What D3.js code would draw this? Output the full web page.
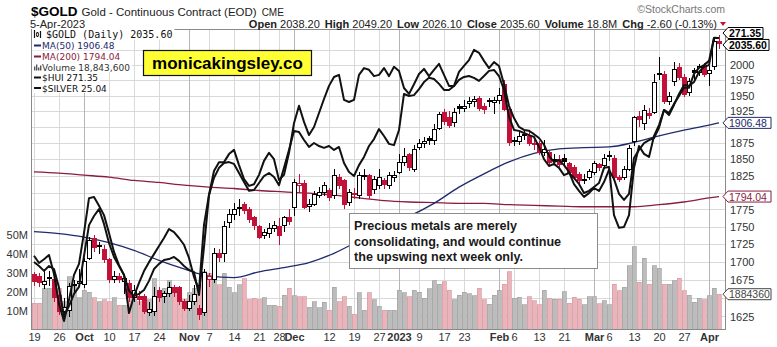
<!DOCTYPE html>
<html><head><meta charset="utf-8">
<script src="https://cdn.jsdelivr.net/npm/d3@7"></script>
<style>body{margin:0;background:#fff}svg{display:block;font-family:Arial,"Liberation Sans",sans-serif}</style>
</head><body><svg id="c" width="777" height="347"></svg>
<script>
// ---------- DATA ----------
const prevClose0 = 1680;
const open = [1682,1680,1668,1677,1676,1654,1632,1633,1667,1670, 1668,1705,1733,1723,1718,1703,1675,1679,1672,1670, 1650,1652,1652,1630,1632,1660,1652,1656,1664,1664, 1645,1636,1645,1636,1630,1675,1676,1712,1711,1756, 1767,1778,1782,1775,1763,1750,1738,1740,1748,1750, 1752,1763,1778,1810,1813,1780,1783,1796,1800,1803, 1795,1823,1818,1785,1799,1795,1825,1825,1805,1810, 1818,1810,1822,1830,1845,1857,1835,1868,1874,1882, 1879,1898,1923,1915,1907,1932,1930,1937,1940,1946, 1932,1942,1938,1942,1967,1928,1879,1877,1889,1885, 1875,1875,1860,1860,1850,1850,1852,1843,1838,1827, 1818,1822,1830,1842,1840,1856,1852,1822,1822,1835, 1877,1916,1905,1922,1923,1986,1984,1940,1972,1995, 1980,1955,1990,1987,1997,1985,1997,2038.2];
const high = [1686,1684,1690,1687,1680,1656,1650,1670,1675,1690, 1705,1735,1738,1728,1724,1706,1687,1684,1683,1675, 1668,1660,1656,1645,1665,1665,1660,1672,1668,1666, 1648,1654,1668,1640,1690,1685,1720,1718,1758,1775, 1785,1790,1786,1778,1766,1752,1746,1756,1758,1762, 1766,1775,1820,1828,1818,1790,1802,1808,1815,1806, 1836,1828,1820,1805,1806,1830,1835,1828,1824,1835, 1822,1830,1832,1858,1868,1860,1872,1882,1885,1886, 1904,1924,1928,1925,1930,1937,1943,1948,1950,1950, 1938,1946,1948,1962,1975,1932,1885,1892,1895,1895, 1880,1878,1880,1862,1858,1856,1858,1846,1842,1830, 1828,1836,1848,1845,1858,1862,1856,1826,1840,1872, 1918,1925,1935,1930,1985,2013,1990,1955,2004,2003, 1985,1978,1995,2002,2003,1998,2045,2049.2];
const low = [1667,1665,1662,1666,1645,1627,1624,1624,1655,1665, 1663,1703,1714,1711,1698,1670,1670,1670,1655,1645, 1645,1640,1628,1625,1625,1645,1643,1652,1652,1640, 1632,1633,1640,1620,1626,1665,1670,1700,1700,1748, 1760,1765,1768,1755,1745,1732,1733,1734,1742,1724, 1742,1752,1765,1800,1775,1772,1780,1792,1795,1788, 1790,1805,1776,1780,1790,1790,1818,1790,1798,1805, 1805,1805,1815,1828,1840,1832,1830,1865,1868,1872, 1872,1895,1903,1898,1900,1920,1924,1930,1932,1925, 1920,1932,1920,1936,1925,1870,1870,1872,1880,1870, 1865,1856,1855,1840,1842,1838,1840,1826,1818,1812, 1812,1818,1826,1832,1836,1848,1818,1815,1818,1832, 1870,1900,1895,1912,1920,1975,1936,1935,1965,1975, 1948,1950,1975,1982,1980,1965,1992,2026.1];
const close = [1672,1671,1673,1678,1650,1632,1637,1666,1668,1672, 1700,1730,1720,1721,1703,1676,1680,1675,1677,1650, 1660,1648,1632,1635,1652,1650,1656,1664,1658,1645, 1636,1645,1655,1628,1685,1680,1712,1706,1750,1767, 1775,1776,1774,1760,1752,1735,1742,1748,1752,1738, 1763,1758,1815,1814,1778,1782,1797,1800,1810,1792, 1825,1810,1782,1800,1797,1825,1826,1795,1820,1822, 1812,1825,1826,1845,1855,1838,1865,1875,1877,1879, 1896,1920,1908,1903,1923,1930,1933,1940,1943,1930, 1928,1940,1942,1950,1928,1876,1877,1885,1887,1875, 1872,1860,1865,1845,1848,1842,1846,1830,1822,1818, 1820,1832,1843,1838,1852,1854,1822,1820,1835,1867, 1915,1912,1926,1918,1971,1984,1940,1948,1992,1979, 1952,1972,1987,1997,1984,1990,2038.2,2035.6];
// volume in millions
const volume = [14,14,22,22,17,22,15,28,23,17, 21,20,17,15,16,15,17,13,13,18, 16,15,12,16,27,21,22,26,22,15, 16,19.5,22,23.7,30.7,30,26,23.7,30,22.4, 19.5,23.7,27,16,16.7,16,17,13,13,12.6, 18.4,22,18,17.5,17.5,12,15,11.6,14.7,10.5, 22.6,15,17.5,12.6,8.4,19.5,10.5,19.5,16,12.6, 10.5,10.5,10.5,21,19.5,17.5,21,20,16.8,21.6, 26,24,25.4,21,16,18.4,19.8,19,18,22, 16,13.5,18.4,21,24,30.7,16.7,17.2,13.2,17.5, 15.4,13.2,21,16.7,16.1,16.1,20.2,14,17.2,16.1, 13.2,17.5,17.5,13.7,15.4,13.2,24,20.7,22.5,33.7, 43.9,25.1,37.7,24,33.7,32.5,24,24,25.8,27.2, 20.7,18.2,14.6,16.7,15.8,18,21.9,18.84];
const hui = [197.4,196.1,194.5,196.1,195.1,188.9,179.6,182.9,186.9,189.2, 199.4,209.6,212.6,214.9,210.0,203.7,199.1,196.1,193.1,187.9, 186.2,186.9,188.2,191.2,195.1,196.8,198.1,198.4,199.1,197.8, 196.1,194.8,194.1,186.5,202.4,219.5,225.2,228.5,230.1,230.4, 229.8,226.8,223.8,220.9,221.2,223.5,225.8,226.8,225.5,222.8, 228.5,234.4,240.7,240.3,237.7,235.4,236.7,235.7,235.1,235.7, 234.4,235.4,230.1,227.1,225.8,229.4,232.1,235.7,238.0,241.3, 239.0,236.4,236.0,241.0,252.9,252.2,252.5,254.5,256.8,258.2, 257.8,256.2,254.2,254.2,255.5,257.5,258.5,258.8,258.2,257.2, 258.8,260.5,260.8,258.8,254.2,245.3,241.0,240.7,240.0,239.3, 238.7,235.4,231.4,229.1,229.8,228.5,226.1,226.8,225.2,223.2, 220.2,220.9,222.2,223.5,228.5,228.8,212.9,208.7,209.0,212.9, 228.5,235.7,233.1,232.1,239.0,242.6,247.6,246.6,249.6,252.2, 254.9,254.9,259.5,261.5,262.4,263.8,271.4,271.35];
const silver = [19.90,19.73,19.82,19.92,19.47,18.76,18.36,18.86,19.45,19.71, 20.44,21.26,21.29,21.08,20.86,20.44,19.99,19.68,19.45,18.55, 18.95,19.26,19.54,19.75,19.94,20.13,20.32,20.53,20.46,20.32, 20.16,19.85,19.40,19.09,20.63,21.34,21.90,22.11,22.11,22.30, 22.40,22.04,21.71,21.55,21.59,21.81,22.14,22.33,22.18,21.69, 21.81,22.33,23.03,23.44,23.06,22.75,22.94,23.27,23.60,23.91, 24.12,24.17,23.58,23.53,23.58,24.17,24.33,24.29,24.14,24.17, 24.33,24.14,24.36,24.26,23.86,23.72,23.95,24.19,24.31,24.14, 24.29,24.43,24.17,23.91,23.91,24.24,24.38,24.52,24.76,24.69, 24.50,24.33,24.47,24.38,23.95,23.44,23.15,22.94,22.87,22.85, 22.77,22.68,22.52,22.26,22.11,22.16,22.04,21.88,21.59,21.43, 21.29,21.38,21.50,21.43,21.64,21.93,21.71,21.36,21.22,21.36, 22.21,22.40,22.56,22.63,22.68,22.92,23.34,23.22,23.46,23.72, 23.93,23.91,24.00,24.24,24.36,24.40,25.04,25.04];
const maIdx = [0,5,10,15,20,25,30,35,40,45,50,55,60,65,70,75,80,85,90,95,100,105,110,115,120,125,130,135,137];
const ma50 = [1743,1740,1735,1727,1716,1702,1690,1680,1678,1686,1692,1699,1712,1730,1750,1765,1784,1808,1828,1846,1859,1866,1868,1869,1876,1886,1895,1903,1906.48];
const ma200 = [1831,1829,1826,1823,1818,1815,1811,1808,1806,1803,1801,1799,1796,1792,1788,1786,1785,1784,1784,1782,1781,1780,1779,1779,1779,1782,1786,1792,1794.04];
const tickIdx = [0,5,10,15,20,25,31,35,40,45,49,52,59,64,69,73,77,82,86,93,96,101,106,112,115,120,125,130,135];
const tickLbl = ["19","26","Oct","10","17","24","Nov","7","14","21","28","Dec","12","19","27","2023","9","17","23","Feb","6","13","21","Mar","6","13","20","27","Apr"];
const monthLbl = ["Oct","Nov","Dec","2023","Feb","Mar","Apr"];
const priceTicks = [1625,1650,1675,1700,1725,1750,1775,1800,1825,1850,1875,1900,1925,1950,1975,2000,2025];
const volTicks = [10,20,30,40,50];
const noteLines = ["Precious metals are merely","consolidating, and would continue","the upswing next week only."];

// ---------- LAYOUT ----------
const L=31,R=726,T=29,B=330;
const svg = d3.select("#c");
const x = d3.scaleLinear().domain([-0.6,138.4]).range([L,R]);
const y = d3.scaleLog().domain([1607,2060]).range([B,T]);
const yV = d3.scaleLinear().domain([0,50]).range([B,235]);
const yHui = d3.scaleLinear().domain([180,271.35]).range([314.8,38]);
const ySil = d3.scaleLinear().domain([18,25.04]).range([336.3,38]);
const RED="#c3123a", NAVY="#1d2a6b", MAROON="#8a1d3d";

svg.append("defs").append("clipPath").attr("id","clip").append("rect")
  .attr("x",L).attr("y",T).attr("width",R-L).attr("height",B-T);

// grid
const grid = svg.append("g").attr("shape-rendering","crispEdges");
grid.selectAll("line.h").data(priceTicks).join("line")
  .attr("x1",L).attr("x2",R).attr("y1",d=>Math.round(y(d))+0.5).attr("y2",d=>Math.round(y(d))+0.5)
  .attr("stroke","#d9d9d9");
grid.selectAll("line.v").data(tickIdx).join("line")
  .attr("x1",d=>Math.round(x(d))+0.5).attr("x2",d=>Math.round(x(d))+0.5).attr("y1",T).attr("y2",B)
  .attr("stroke",(d,i)=>monthLbl.includes(tickLbl[i])?"#b5b5b5":"#d9d9d9");

const plot = svg.append("g").attr("clip-path","url(#clip)");
const idx = d3.range(close.length);
const prevC = i => i===0?prevClose0:close[i-1];

// volume
plot.append("g").attr("shape-rendering","crispEdges").selectAll("rect").data(idx).join("rect")
  .attr("x",i=>Math.round(x(i))-2).attr("width",4)
  .attr("y",i=>yV(volume[i])).attr("height",i=>B-yV(volume[i]))
  .attr("fill",i=>close[i]<prevC(i)?"#e9b5bb":"#bcbcbc")
  .attr("stroke",i=>close[i]<prevC(i)?"#d99aa3":"#a2a2a2").attr("stroke-width",0.7);

// moving averages
const maLine = d3.line().x(d=>x(d[0])).y(d=>y(d[1])).curve(d3.curveMonotoneX);
plot.append("path").attr("d",maLine(maIdx.map((d,i)=>[d,ma200[i]]))).attr("fill","none").attr("stroke",MAROON).attr("stroke-width",1.3);
plot.append("path").attr("d",maLine(maIdx.map((d,i)=>[d,ma50[i]]))).attr("fill","none").attr("stroke",NAVY).attr("stroke-width",1.3);

// candles
const cg = plot.append("g").attr("shape-rendering","crispEdges");
idx.forEach(i=>{
  const cx=Math.round(x(i)), col = close[i]<prevC(i)?RED:"#000";
  cg.append("line").attr("x1",cx+0.5).attr("x2",cx+0.5).attr("y1",y(high[i])).attr("y2",y(low[i])).attr("stroke",col);
  const top=y(Math.max(open[i],close[i])), bot=y(Math.min(open[i],close[i]));
  cg.append("rect").attr("x",cx-1.5).attr("width",4).attr("y",top).attr("height",Math.max(1,bot-top))
    .attr("fill",close[i]>=open[i]?"#fff":col).attr("stroke",col);
});

// overlays
const ln = (sc,arr)=>d3.line().x((d,i)=>x(i)).y(d=>sc(d))(arr);
plot.append("path").attr("d",ln(yHui,hui)).attr("fill","none").attr("stroke","#111").attr("stroke-width",2).attr("stroke-linejoin","round");
plot.append("path").attr("d",ln(ySil,silver)).attr("fill","none").attr("stroke","#111").attr("stroke-width",2).attr("stroke-linejoin","round");

// frame
svg.append("rect").attr("x",L+0.5).attr("y",T+0.5).attr("width",R-L-1).attr("height",B-T-1)
  .attr("fill","none").attr("stroke","#8a8a8a").attr("shape-rendering","crispEdges");

// callout positions (used to hide tick labels that the callouts cover)
const calls = [
  {yc:yV(volume[volume.length-1]), t:"1884360", c:"#444", b:false, w:48},
  {yc:y(ma200[ma200.length-1]), t:"1794.04", c:MAROON, b:false, w:48},
  {yc:y(ma50[ma50.length-1]), t:"1906.48", c:NAVY, b:false, w:48},
  {yc:yHui(hui[hui.length-1])-5, t:"271.35", c:"#000", b:true, w:40},
  {yc:y(close[close.length-1])+1.5, t:"2035.60", c:"#000", b:true, w:46}
];
const covered = d => calls.some(c=>Math.abs(c.yc-y(d))<7.5);

// axes
const ya = svg.append("g").attr("transform",`translate(${R},0)`)
  .call(d3.axisRight(y).tickValues(priceTicks.filter(d=>!covered(d))).tickFormat(d3.format("d")).tickSize(0).tickPadding(4));
ya.select(".domain").remove();
ya.selectAll("text").attr("font-size",11).attr("fill","#333").attr("font-family","Arial");
const va = svg.append("g").attr("transform",`translate(${L},0)`)
  .call(d3.axisLeft(yV).tickValues(volTicks).tickFormat(d=>d+"M").tickSize(0).tickPadding(3));
va.select(".domain").remove();
va.selectAll("text").attr("font-size",11).attr("fill","#333").attr("font-family","Arial");
const xa = svg.append("g").attr("transform",`translate(0,${B})`)
  .call(d3.axisBottom(x).tickValues(tickIdx).tickFormat((d,i)=>tickLbl[i]).tickSize(0).tickPadding(3));
xa.select(".domain").remove();
xa.selectAll("text").attr("font-size",11).attr("fill","#333").attr("font-family","Arial")
  .attr("font-weight",(d,i)=>monthLbl.includes(tickLbl[i])?"bold":"normal");

// header
const ttl = svg.append("text").attr("x",31).attr("y",16).attr("font-size",13.5).attr("font-weight","bold").text("$GOLD");
const sx = 31+ttl.node().getComputedTextLength()+4;
const sub = svg.append("text").attr("x",sx).attr("y",16).attr("font-size",11.5).attr("fill","#222").text("Gold - Continuous Contract (EOD)");
svg.append("text").attr("x",sx+sub.node().getComputedTextLength()+5).attr("y",16).attr("font-size",10).attr("fill","#222").text("CME");
svg.append("text").attr("x",30).attr("y",27.5).attr("font-size",11).attr("fill","#222").text("5-Apr-2023");
svg.append("text").attr("x",725).attr("y",13).attr("text-anchor","end").attr("font-size",10.5).attr("fill","#777").text("\u00A9StockCharts.com");
const hdr = svg.append("text").attr("x",717).attr("y",27.5).attr("text-anchor","end").attr("font-size",11).attr("fill","#222");
[["Open ",1,0],["2038.20",0,0],["High ",1,5],["2049.20",0,0],["Low ",1,5],["2026.10",0,0],["Close ",1,5],["2035.60",0,0],["Volume ",1,5],["18.8M",0,0],["Chg ",1,5],["-2.60 (-0.13%)",0,0]]
  .forEach(([t,b,dx])=>hdr.append("tspan").attr("dx",dx).attr("font-weight",b?"bold":"normal").attr("xml:space","preserve").text(t));
svg.append("path").attr("d","M720,22 L726,22 L723,26 Z").attr("fill",RED);

// legend
const lg = svg.append("g");
const rows = [
  {t:"$GOLD (Daily) 2035.60", c:"#111", y:38, mono:true},
  {t:"MA(50) 1906.48", c:NAVY, y:49},
  {t:"MA(200) 1794.04", c:MAROON, y:60},
  {t:"Volume 18,843,600", c:"#333", y:70.5},
  {t:"$HUI 271.35", c:"#111", y:81},
  {t:"$SILVER 25.04", c:"#111", y:91.5}
];
rows.forEach((r,k)=>{
  const tx = k===0?46:42;
  const t = lg.append("text").attr("x",tx).attr("y",r.y).attr("fill",r.c)
    .attr("font-family",r.mono?"DejaVu Sans Mono":"DejaVu Sans").attr("font-size",r.mono?10:9).text(r.t);
  const w = t.node().getComputedTextLength();
  lg.insert("rect","text").attr("x",32).attr("y",r.y-9).attr("width",tx-32+w+2).attr("height",10.5).attr("fill","#fff");
  if(k===0){
    lg.append("path").attr("d",`M34.5,${r.y-8}V${r.y}M37.5,${r.y-6}V${r.y-1}M40.5,${r.y-7}V${r.y}`).attr("stroke","#111").attr("stroke-width",1.2);
    lg.append("rect").attr("x",36.5).attr("y",r.y-5).attr("width",2).attr("height",3).attr("fill","#fff").attr("stroke","#111").attr("stroke-width",0.8);
  } else if(k===3){
    [[34,4],[36,6],[38,3],[40,5]].forEach(([bx,h])=>lg.append("rect").attr("x",bx).attr("y",r.y-h).attr("width",1.4).attr("height",h).attr("fill","#555"));
  } else {
    lg.append("rect").attr("x",34).attr("y",r.y-4.5).attr("width",7).attr("height",2).attr("fill",r.c);
  }
});

// watermark
svg.append("rect").attr("x",143.5).attr("y",50.5).attr("width",168).attr("height",25).attr("fill","#ffff33").attr("stroke","#111").attr("stroke-width",1.2);
svg.append("text").attr("x",227.5).attr("y",69).attr("text-anchor","middle").attr("font-size",17).attr("font-weight","bold").attr("fill","#000").text("monicakingsley.co");

// annotation
svg.append("rect").attr("x",349.5).attr("y",213.5).attr("width",248).attr("height",55).attr("fill","#fff").attr("stroke","#8c8c8c");
noteLines.forEach((t,k)=>svg.append("text").attr("x",354).attr("y",230+k*15.5).attr("font-size",12.6).attr("font-weight","bold").attr("fill","#1a1a1a").text(t));

// callouts
calls.forEach(c=>{
  const x0=723, h=5.5;
  svg.append("path").attr("d",`M${x0},${c.yc} L${x0+5},${c.yc-h} L${x0+c.w},${c.yc-h} L${x0+c.w},${c.yc+h} L${x0+5},${c.yc+h} Z`)
    .attr("fill","#fff").attr("stroke",c.c).attr("stroke-width",1);
  svg.append("text").attr("x",x0+6).attr("y",c.yc+4).attr("font-size",10.5).attr("font-weight",c.b?"bold":"normal").attr("fill",c.c).text(c.t);
});
</script></body></html>
